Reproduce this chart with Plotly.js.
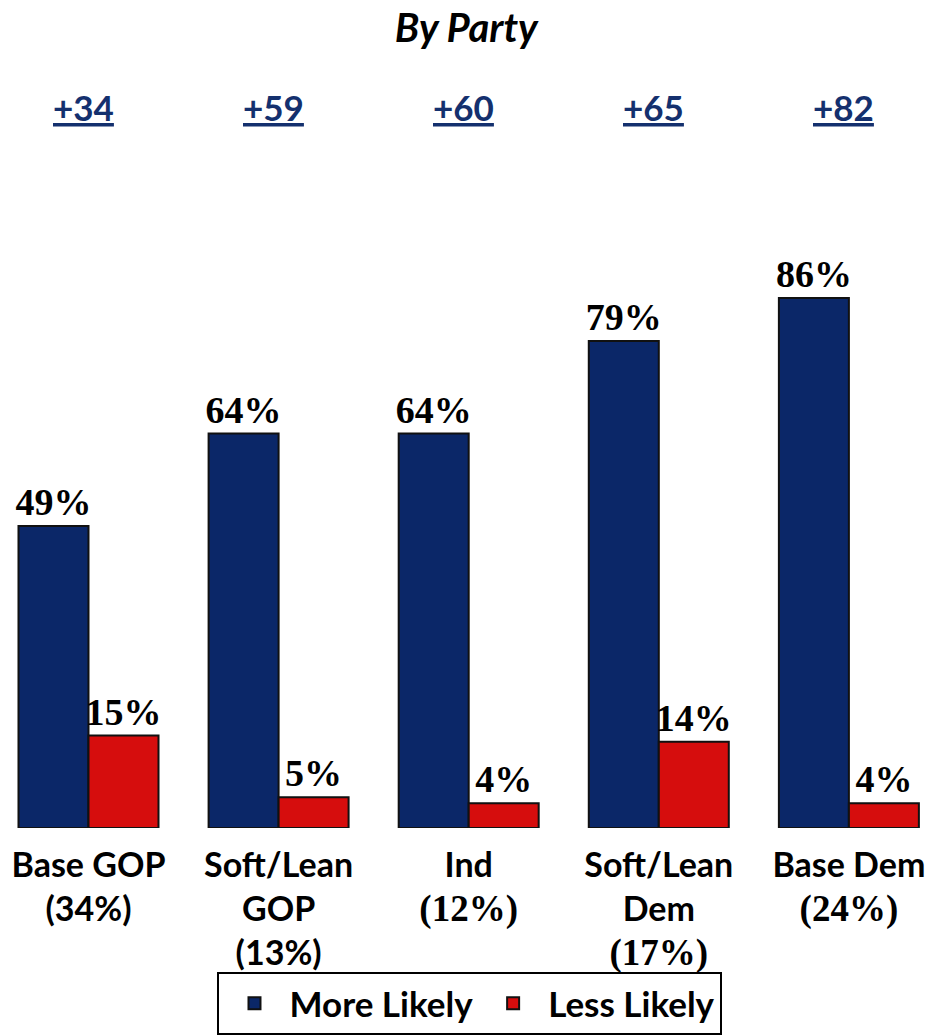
<!DOCTYPE html>
<html>
<head>
<meta charset="utf-8">
<script src="https://cdn.plot.ly/plotly-3.0.1.min.js"></script>
<style>html,body{margin:0;padding:0;background:#fff;}#chart{width:927px;height:1036px;}</style>
</head>
<body>
<div id="chart"></div>
<script>
// ---- data ----
const categories = ["Base GOP", "Soft/Lean GOP", "Ind", "Soft/Lean Dem", "Base Dem"];
const serifSpan = s => "<span style=\"font-family:Liberation Serif;font-size:37px\">" + s + "</span>";
const categoryLabels = [
  "Base GOP<br>(34%)",
  "Soft/Lean<br>GOP<br>(13%)",
  "Ind<br>" + serifSpan("(12%)"),
  "Soft/Lean<br>Dem<br>" + serifSpan("(17%)"),
  "Base Dem<br>" + serifSpan("(24%)")
];
const moreLikely = [49, 64, 64, 79, 86];
const lessLikely = [15, 5, 4, 14, 4];
const netLabels = ["+34", "+59", "+60", "+65", "+82"];

const SANS = "Lato, 'Liberation Sans', sans-serif";
const SERIF = "'Liberation Serif', serif";
const idx = categories.map((c, i) => i);

const traces = [
  {
    type: 'bar', name: 'More Likely', x: idx, y: moreLikely,
    marker: {color: '#0b2768', line: {color: '#111111', width: 2}},
    texttemplate: '%{y}%', textposition: 'outside', cliponaxis: false, constraintext: 'none',
    textfont: {family: SERIF, size: 38, color: '#000', weight: 'bold'},
    hoverinfo: 'skip'
  },
  {
    type: 'bar', name: 'Less Likely', x: idx, y: lessLikely,
    marker: {color: '#d60d0d', line: {color: '#111111', width: 2}},
    texttemplate: '%{y}%', textposition: 'outside', cliponaxis: false, constraintext: 'none',
    textfont: {family: SERIF, size: 38, color: '#000', weight: 'bold'},
    hoverinfo: 'skip'
  }
];

const annotations = netLabels.map((t, i) => ({
  x: i, y: 1.0634, xref: 'x', yref: 'paper', xshift: -5,
  text: '<u>' + t + '</u>', showarrow: false,
  xanchor: 'center', yanchor: 'middle',
  font: {family: SANS, size: 35, color: '#14306e', weight: 'bold'}
}));

const layout = {
  width: 927, height: 1036,
  margin: {l: 0, r: 0, t: 150, b: 208, pad: 0},
  paper_bgcolor: '#ffffff', plot_bgcolor: '#ffffff',
  barmode: 'group', bargap: 0.2635, bargroupgap: 0,
  title: {
    text: 'By Party', x: 0.503, xanchor: 'center', y: 0.973, yref: 'container', yanchor: 'middle',
    font: {family: SANS, size: 40, color: '#000', weight: 'bold', style: 'italic'}
  },
  xaxis: {
    range: [-0.4655, 4.4109], tickmode: 'array', tickvals: idx, ticktext: categoryLabels,
    showgrid: false, zeroline: false, showline: false, ticks: '',
    ticklabeloverflow: 'allow', ticklabelstandoff: 14,
    tickfont: {family: SANS, size: 34, color: '#000', weight: 'bold'}, fixedrange: true
  },
  yaxis: {
    range: [0, 110], visible: false, showgrid: false, zeroline: false, fixedrange: true
  },
  showlegend: true,
  legend: {
    orientation: 'h', x: 0.507, xanchor: 'center', y: -0.2124, yanchor: 'top',
    bordercolor: '#000', borderwidth: 2, bgcolor: '#fff', itemwidth: 60,
    font: {family: SANS, size: 35, color: '#000', weight: 'bold'}
  },
  annotations: annotations
};

Plotly.newPlot('chart', traces, layout, {displayModeBar: false, staticPlot: true});
</script>
</body>
</html>
